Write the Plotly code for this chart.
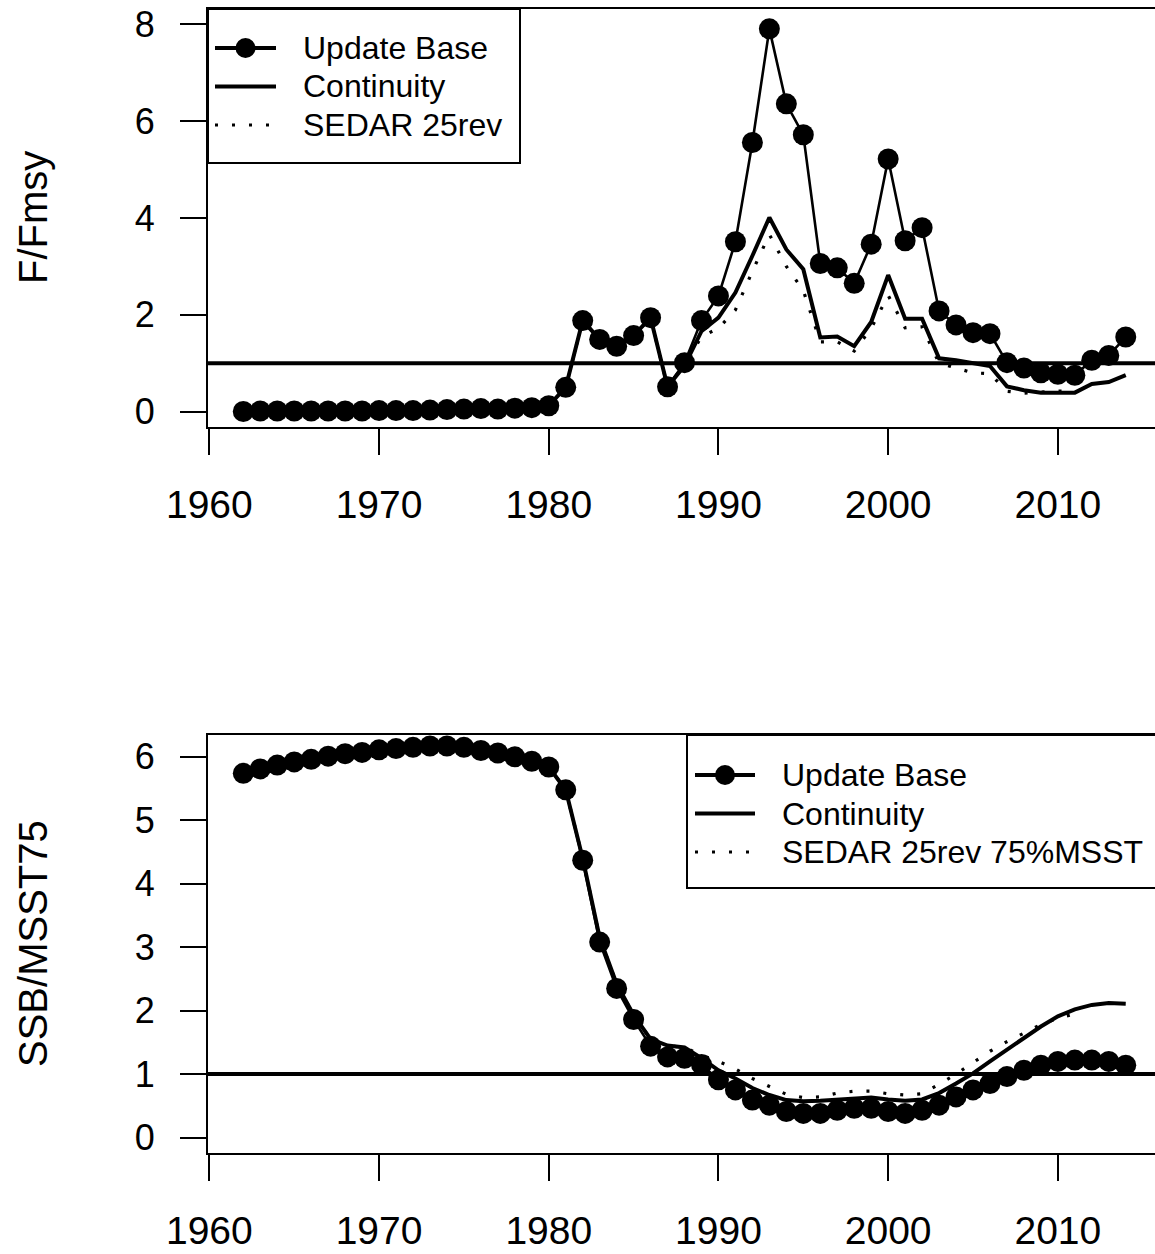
import plotly.graph_objects as go

# ---- data -------------------------------------------------------------
years = list(range(1962, 2015))
sedar_years = list(range(1962, 2012))

f_update = [0.00, 0.01, 0.01, 0.01, 0.01, 0.01, 0.01, 0.01, 0.02, 0.02,
            0.02, 0.03, 0.04, 0.05, 0.06, 0.05, 0.07, 0.08, 0.12, 0.50,
            1.88, 1.49, 1.35, 1.57, 1.94, 0.51, 1.01, 1.88, 2.39, 3.51,
            5.56, 7.91, 6.36, 5.72, 3.06, 2.97, 2.65, 3.46, 5.22, 3.53,
            3.80, 2.08, 1.79, 1.63, 1.61, 1.01, 0.90, 0.80, 0.77, 0.75,
            1.06, 1.16, 1.54]
f_continuity = [0.00, 0.01, 0.01, 0.01, 0.01, 0.01, 0.01, 0.01, 0.02, 0.02,
                0.02, 0.03, 0.04, 0.05, 0.06, 0.05, 0.07, 0.08, 0.12, 0.50,
                1.88, 1.49, 1.35, 1.57, 1.94, 0.51, 0.95, 1.66, 1.94, 2.46,
                3.22, 4.01, 3.35, 2.94, 1.53, 1.55, 1.35, 1.85, 2.82, 1.92,
                1.92, 1.10, 1.06, 1.01, 0.94, 0.52, 0.44, 0.39, 0.39, 0.39,
                0.57, 0.61, 0.75]
f_sedar = [0.00, 0.01, 0.01, 0.01, 0.01, 0.01, 0.01, 0.01, 0.02, 0.02,
           0.02, 0.03, 0.04, 0.05, 0.06, 0.05, 0.07, 0.08, 0.12, 0.50,
           1.88, 1.49, 1.35, 1.57, 1.94, 0.51, 0.95, 1.55, 1.72, 2.10,
           2.90, 3.66, 3.00, 2.50, 1.44, 1.44, 1.25, 1.72, 2.40, 1.73,
           1.75, 1.00, 0.90, 0.80, 0.78, 0.42, 0.38, 0.40, 0.42, 0.42]

ssb_update = [5.74, 5.81, 5.87, 5.92, 5.96, 6.01, 6.05, 6.07, 6.11, 6.13,
              6.15, 6.17, 6.17, 6.15, 6.10, 6.06, 6.00, 5.93, 5.84, 5.48,
              4.37, 3.08, 2.35, 1.86, 1.44, 1.27, 1.25, 1.15, 0.91, 0.75,
              0.59, 0.51, 0.41, 0.38, 0.38, 0.43, 0.46, 0.46, 0.41, 0.38,
              0.43, 0.51, 0.64, 0.75, 0.85, 0.96, 1.06, 1.14, 1.20, 1.22,
              1.22, 1.20, 1.14]
ssb_continuity = [5.74, 5.81, 5.87, 5.92, 5.96, 6.01, 6.05, 6.07, 6.11, 6.13,
                  6.15, 6.17, 6.17, 6.15, 6.10, 6.06, 6.00, 5.93, 5.84, 5.48,
                  4.40, 3.15, 2.42, 1.93, 1.55, 1.45, 1.42, 1.25, 1.06, 0.93,
                  0.78, 0.67, 0.59, 0.57, 0.58, 0.60, 0.62, 0.63, 0.60, 0.58,
                  0.60, 0.70, 0.85, 1.01, 1.20, 1.38, 1.56, 1.75, 1.91, 2.02,
                  2.09, 2.12, 2.11]
ssb_sedar = [5.74, 5.81, 5.87, 5.92, 5.96, 6.01, 6.05, 6.07, 6.11, 6.13,
             6.15, 6.17, 6.17, 6.15, 6.10, 6.06, 6.00, 5.93, 5.84, 5.48,
             4.40, 3.15, 2.42, 1.93, 1.55, 1.45, 1.42, 1.30, 1.20, 1.08,
             0.93, 0.80, 0.68, 0.63, 0.64, 0.70, 0.73, 0.73, 0.69, 0.67,
             0.69, 0.84, 1.00, 1.18, 1.36, 1.51, 1.65, 1.78, 1.88, 1.95]

x_ticks = [1960, 1970, 1980, 1990, 2000, 2010]
f_ticks = [0, 2, 4, 6, 8]
ssb_ticks = [0, 1, 2, 3, 4, 5, 6]
ref_level = 1

top_legend = ["Update Base", "Continuity", "SEDAR 25rev"]
bottom_legend = ["Update Base", "Continuity", "SEDAR 25rev 75%MSST"]

# ---- page geometry (pixels) --------------------------------------------
W, H = 1155, 1254
FONT = "Liberation Sans, Arial, sans-serif"


def px_x(p):
    return p / W


def px_y(p):
    return 1 - p / H


plot_left = 208
x_per_year = 16.97
x_lo = 1959.92
x_hi = x_lo + (W - plot_left) / x_per_year

panels = [
    # (row, top px, bottom px, y range)
    (1, 9, 427, [-0.32, 8.32]),
    (2, 735, 1153, [-0.244, 6.344]),
]

fig = go.Figure()


def add_series(xa, ya, x, upd, cont, sedx, sed):
    fig.add_trace(go.Scatter(
        x=x, y=upd, mode="lines+markers", xaxis=xa, yaxis=ya,
        line=dict(color="black", width=2.6),
        marker=dict(color="black", size=21, line=dict(width=0)),
        showlegend=False, hoverinfo="skip"))
    fig.add_trace(go.Scatter(
        x=x, y=cont, mode="lines", xaxis=xa, yaxis=ya,
        line=dict(color="black", width=4),
        showlegend=False, hoverinfo="skip"))
    fig.add_trace(go.Scatter(
        x=sedx, y=sed, mode="lines", xaxis=xa, yaxis=ya,
        line=dict(color="black", width=3.2, dash="3px,14px"),
        showlegend=False, hoverinfo="skip"))


add_series("x", "y", years, f_update, f_continuity, sedar_years, f_sedar)
add_series("x2", "y2", years, ssb_update, ssb_continuity, sedar_years, ssb_sedar)

axis_common = dict(
    showgrid=False, zeroline=False, showline=True, linecolor="black",
    linewidth=2, ticks="outside", ticklen=26, tickwidth=2, tickcolor="black",
    automargin=False,
)

layout = dict(
    width=W, height=H,
    margin=dict(l=0, r=0, t=0, b=0, pad=0, autoexpand=False),
    paper_bgcolor="white", plot_bgcolor="white", showlegend=False,
    font=dict(family=FONT, color="black"),
)

y_ticks_by_row = {1: f_ticks, 2: ssb_ticks}
for row, top, bottom, yr in panels:
    sfx = "" if row == 1 else str(row)
    layout["xaxis" + sfx] = dict(
        axis_common, domain=[px_x(plot_left), 1.0], range=[x_lo, x_hi],
        anchor="y" + sfx, mirror=True, tickvals=x_ticks,
        tickfont=dict(family=FONT, size=39, color="black"),
        ticklabelstandoff=16,
    )
    layout["yaxis" + sfx] = dict(
        axis_common, domain=[px_y(bottom), px_y(top)], range=yr,
        anchor="x" + sfx, mirror=False, tickvals=y_ticks_by_row[row],
        tickfont=dict(family=FONT, size=36, color="black"),
        ticklabelstandoff=18,
    )

fig.update_layout(**layout)

shapes = []
annotations = []

# reference line at F/Fmsy = 1 and SSB/MSST = 1
for sfx in ["", "2"]:
    shapes.append(dict(type="line", xref="x" + sfx + " domain", yref="y" + sfx,
                       x0=0, x1=1, y0=ref_level, y1=ref_level,
                       line=dict(color="black", width=4)))

# axis titles
for text, cy in [("F/Fmsy", 218), ("SSB/MSST75", 944)]:
    annotations.append(dict(text=text, xref="paper", yref="paper",
                            x=px_x(33), y=px_y(cy), textangle=-90,
                            showarrow=False, xanchor="center", yanchor="middle",
                            font=dict(family=FONT, size=40, color="black")))


def draw_legend(box, rows_y, sample_x, text_x, labels):
    x0, y0, x1, y1 = box
    shapes.append(dict(type="rect", xref="paper", yref="paper",
                       x0=px_x(x0), x1=px_x(x1), y0=px_y(y1), y1=px_y(y0),
                       line=dict(color="black", width=2), fillcolor="white",
                       layer="above"))
    sx0, sx1 = sample_x
    dashes = ["solid", "solid", "3px,14px"]
    widths = [4, 4, 3.2]
    for i, (lab, ry) in enumerate(zip(labels, rows_y)):
        shapes.append(dict(type="line", xref="paper", yref="paper",
                           x0=px_x(sx0), x1=px_x(sx1), y0=px_y(ry), y1=px_y(ry),
                           line=dict(color="black", width=widths[i], dash=dashes[i]),
                           layer="above"))
        if i == 0:
            cx = (sx0 + sx1) / 2
            shapes.append(dict(type="circle", xref="paper", yref="paper",
                               xsizemode="pixel", ysizemode="pixel",
                               xanchor=px_x(cx), yanchor=px_y(ry),
                               x0=-10, x1=10, y0=-10, y1=10,
                               fillcolor="black", line=dict(width=0),
                               layer="above"))
        annotations.append(dict(text=lab, xref="paper", yref="paper",
                                x=px_x(text_x), y=px_y(ry), showarrow=False,
                                xanchor="left", yanchor="middle",
                                font=dict(family=FONT, size=32, color="black")))


draw_legend((208, 9, 520, 163), [48, 86.5, 125], (215, 276), 304 - 3, top_legend)
draw_legend((687, 735, 1170, 888), [775, 813.5, 852], (695, 755), 783 - 3, bottom_legend)

fig.update_layout(shapes=shapes, annotations=annotations)

fig.write_html("out.html")
